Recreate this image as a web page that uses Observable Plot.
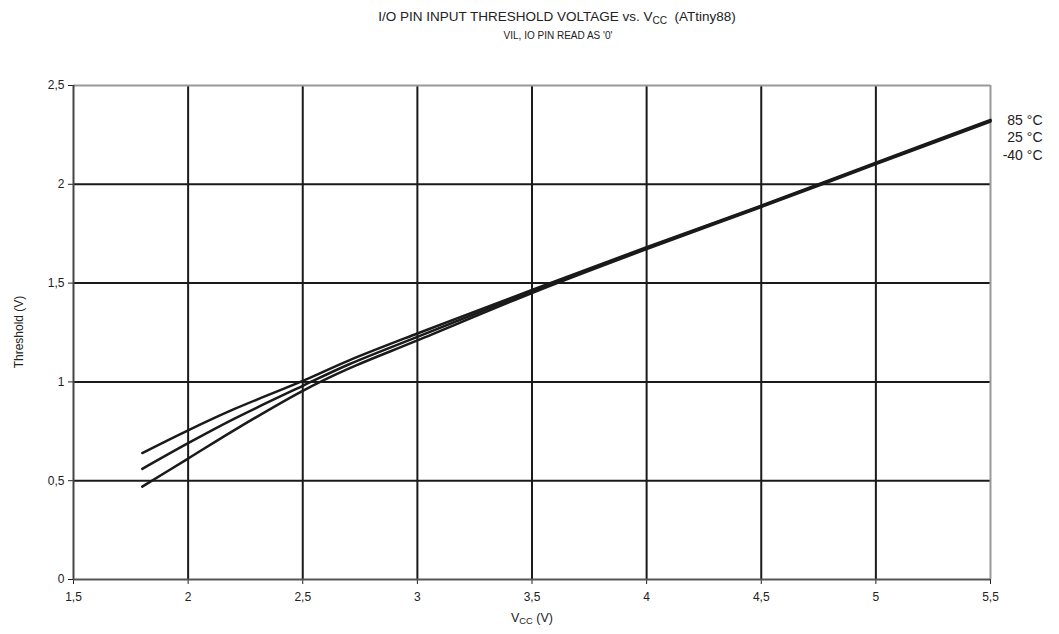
<!DOCTYPE html>
<html>
<head>
<meta charset="utf-8">
<script src="https://cdn.jsdelivr.net/npm/d3@7"></script>
<script src="https://cdn.jsdelivr.net/npm/@observablehq/plot@0.6"></script>
<style>
  body { margin: 0; background: #fff; font-family: "Liberation Sans", Arial, sans-serif; }
  #wrap { position: relative; width: 1059px; height: 634px; }
  .lbl { position: absolute; color: #222; white-space: nowrap; transform: translateX(-50%); }
  .lbl sub { font-size: 0.75em; vertical-align: -0.25em; }
  .ylbl { position: absolute; color: #222; white-space: nowrap; font-size: 12px; left: 19px; top: 332px; transform: translate(-50%, -50%) rotate(-90deg); }
</style>
</head>
<body>
<div id="wrap">
  <div class="lbl" style="left:557px; top:9px; font-size:13.5px;">I/O PIN INPUT THRESHOLD VOLTAGE vs. V<sub>CC</sub>&nbsp; (ATtiny88)</div>
  <div class="lbl" style="left:558px; top:30px; font-size:10px;">VIL, IO PIN READ AS '0'</div>
  <div class="lbl" style="left:532px; top:611px; font-size:12.5px;">V<sub>CC</sub> (V)</div>
  <div class="ylbl">Threshold (V)</div>
</div>
<script>
const vcc = [1.8, 2.0, 2.2, 2.5, 2.7, 3.0, 3.5, 4.0, 4.5, 5.0, 5.5];
const seriesNames = ["85 °C", "25 °C", "-40 °C"];
const seriesTop = [0.64, 0.755, 0.862, 1.005, 1.108, 1.245, 1.465, 1.682, 1.892, 2.11, 2.326];
const seriesMid = [0.56, 0.69, 0.813, 0.98, 1.088, 1.228, 1.458, 1.677, 1.889, 2.106, 2.322];
const seriesBot = [0.47, 0.612, 0.755, 0.955, 1.067, 1.21, 1.45, 1.672, 1.885, 2.102, 2.318];
const xTicks = [1.5, 2, 2.5, 3, 3.5, 4, 4.5, 5, 5.5];
const yTicks = [0, 0.5, 1, 1.5, 2, 2.5];
const labelY = [2.323, 2.237, 2.146];

const all = [seriesTop, seriesMid, seriesBot];
const rows = [];
all.forEach((s, i) => s.forEach((v, j) => rows.push({series: seriesNames[i], x: vcc[j], y: v})));
const labels = seriesNames.map((n, i) => ({n, y: labelY[i]}));
const fmt = d => String(d).replace(".", ",");

const plot = Plot.plot({
  width: 1059,
  height: 634,
  marginLeft: 73,
  marginRight: 69,
  marginTop: 85,
  marginBottom: 55,
  style: {fontFamily: "'Liberation Sans', Arial, sans-serif", fontSize: "12px", color: "#222", overflow: "visible"},
  x: {domain: [1.5, 5.5], ticks: xTicks, tickFormat: fmt, label: null, tickSize: 5, tickPadding: 8},
  y: {domain: [0, 2.5], ticks: yTicks, tickFormat: fmt, label: null, tickSize: 5, tickPadding: 4},
  marks: [
    Plot.ruleX(xTicks.slice(1, -1), {stroke: "#1a1a1a", strokeWidth: 2}),
    Plot.ruleY(yTicks.slice(1, -1), {stroke: "#1a1a1a", strokeWidth: 2}),
    Plot.ruleY([2.5], {stroke: "#999", strokeWidth: 2}),
    Plot.ruleX([5.5], {stroke: "#999", strokeWidth: 2}),
    Plot.ruleX([1.5], {stroke: "#444", strokeWidth: 2}),
    Plot.ruleY([0], {stroke: "#555", strokeWidth: 2}),
    Plot.line(rows, {x: "x", y: "y", z: "series", stroke: "#1a1a1a", strokeWidth: 2.5, curve: "catmull-rom"}),
    Plot.text(labels, {x: () => 5.5, y: "y", text: "n", dx: 52, textAnchor: "end", fontSize: 14, fill: "#222"})
  ]
});
document.getElementById("wrap").prepend(plot);
plot.style.position = "absolute";
plot.style.left = "0";
plot.style.top = "0";
</script>
</body>
</html>
